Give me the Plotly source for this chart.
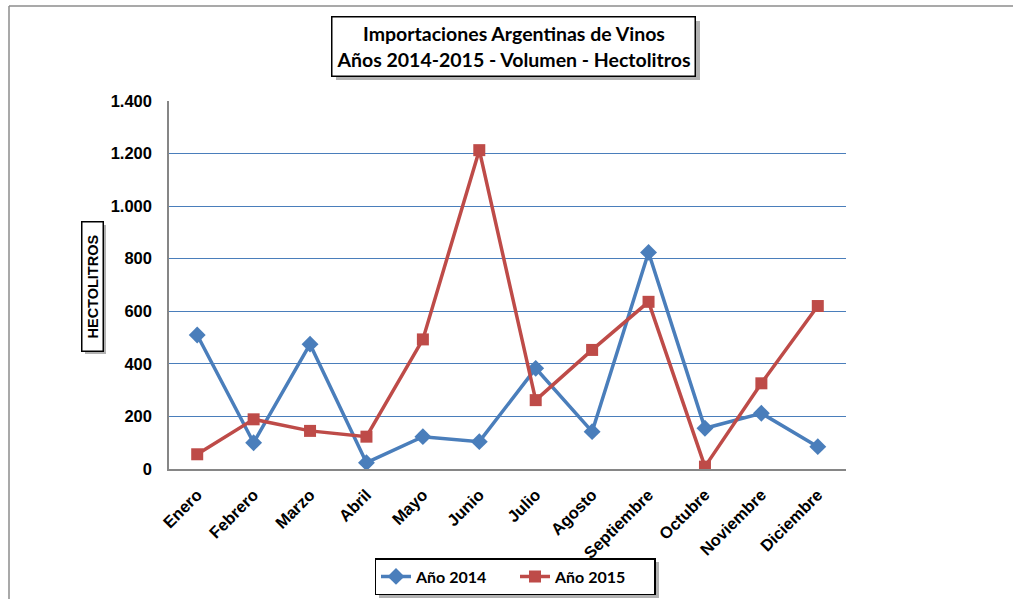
import plotly.graph_objects as go

meses = ["Enero", "Febrero", "Marzo", "Abril", "Mayo", "Junio", "Julio",
         "Agosto", "Septiembre", "Octubre", "Noviembre", "Diciembre"]
anio_2014 = [510, 100, 475, 24, 123, 104, 383, 142, 824, 155, 212, 85]
anio_2015 = [56, 189, 145, 123, 493, 1213, 262, 453, 636, 9, 326, 620]
y_ticks = [0, 200, 400, 600, 800, 1000, 1200, 1400]

W, H = 1013, 599
L, R, T, B = 169, 846, 101, 469


def px(x):
    return (x - L) / (R - L)


def py(y):
    return (B - y) / (B - T)


BLUE = "#4A7EBB"
RED = "#BE4B48"

fig = go.Figure()
fig.add_trace(go.Scatter(
    x=meses, y=anio_2014, name="Año 2014", mode="lines+markers",
    line=dict(color=BLUE, width=3.5),
    marker=dict(symbol="diamond", size=13, color=BLUE),
))
fig.add_trace(go.Scatter(
    x=meses, y=anio_2015, name="Año 2015", mode="lines+markers",
    line=dict(color=RED, width=3.5),
    marker=dict(symbol="square", size=12, color=RED),
))

fig.update_layout(
    width=W, height=H,
    margin=dict(l=L, r=W - R, t=T, b=H - B, autoexpand=False),
    paper_bgcolor="white", plot_bgcolor="white",
    separators=",.",
    showlegend=True,
    legend=dict(
        orientation="h", x=px(515), y=py(558), xanchor="center", yanchor="top",
        bordercolor="black", borderwidth=1.5, bgcolor="white",
        font=dict(family="Lato", size=16, color="black", weight="bold"),
        entrywidth=94, entrywidthmode="pixels", tracegroupgap=0,
    ),
    font=dict(family="Liberation Sans", color="black"),
)

fig.update_xaxes(
    type="category", range=[-0.5, 11.5],
    showline=True, linecolor="#868686", linewidth=1.5,
    showgrid=False, zeroline=False, ticks="",
    tickangle=-45, ticklabelstandoff=8,
    tickfont=dict(family="Liberation Sans", size=16.5, color="black", weight="bold"),
)
fig.update_yaxes(
    range=[0, 1400], tickvals=y_ticks, tickformat=",d",
    showline=True, linecolor="#868686", linewidth=1.5,
    showgrid=True, gridcolor=BLUE, gridwidth=1.2, zeroline=False, ticks="",
    ticklabelstandoff=12,
    tickfont=dict(family="Liberation Sans", size=16.5, color="black", weight="bold"),
)

shapes = []
# outer chart border (top and left visible)
shapes.append(dict(type="line", xref="paper", yref="paper",
                   x0=px(9), x1=px(1020), y0=py(6), y1=py(6),
                   line=dict(color="#8C8C8C", width=1.5)))
shapes.append(dict(type="line", xref="paper", yref="paper",
                   x0=px(9), x1=px(9), y0=py(6), y1=py(620),
                   line=dict(color="#8C8C8C", width=1.5)))
# shadows
for (x0, y0, x1, y1) in [(336, 21, 700, 80), (85, 225, 106, 354), (379, 562, 659, 598)]:
    shapes.append(dict(type="rect", xref="paper", yref="paper",
                       x0=px(x0), x1=px(x1), y0=py(y0), y1=py(y1),
                       fillcolor="rgba(0,0,0,0.3)", line=dict(width=0), layer="above"))
fig.update_layout(shapes=shapes)

fig.add_annotation(
    xref="paper", yref="paper", x=px(513), y=py(47), xanchor="center", yanchor="middle",
    text="Importaciones Argentinas de Vinos<br>Años 2014-2015 - Volumen - Hectolitros",
    showarrow=False, width=358, height=54, borderpad=2,
    bordercolor="black", borderwidth=1.5, bgcolor="white",
    font=dict(family="Lato", size=19.5, color="black", weight="bold"),
)
fig.add_annotation(
    xref="paper", yref="paper", x=px(92.5), y=py(286.5), xanchor="center", yanchor="middle",
    text="HECTOLITROS", textangle=-90,
    showarrow=False, width=126, height=18, borderpad=1,
    bordercolor="black", borderwidth=1.5, bgcolor="white",
    font=dict(family="Liberation Sans", size=14.5, color="black", weight="bold"),
)

fig.write_html(
    "out.html",
    config={"displayModeBar": False},
    post_script="document.body.style.margin='0';document.body.style.overflow='hidden';",
)
